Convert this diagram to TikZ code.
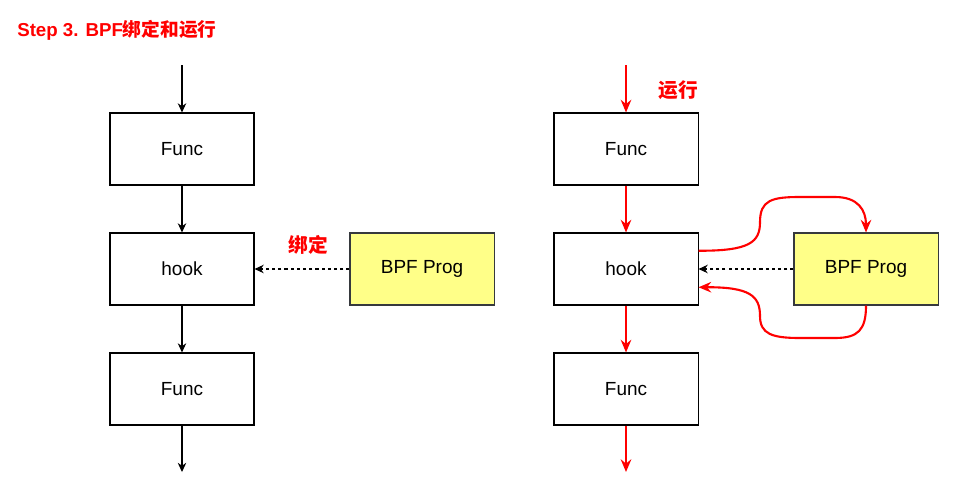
\documentclass[tikz,border=0pt]{standalone}
\usepackage{fontspec}
\setmainfont{Liberation Sans}
\newfontfamily\cjk{Noto Sans CJK SC}
\usetikzlibrary{calc}
\usetikzlibrary{arrows.meta}

\definecolor{progfill}{HTML}{FFFF88}
\definecolor{progline}{HTML}{36393D}

\tikzset{
    blk/.style={draw=black, line width=0.75pt, minimum width=3.6cm, minimum height=1.8cm, font=\fontsize{13.5}{16}\selectfont},
    prog/.style={blk, draw=progline, fill=progfill},
    flow/.style={line width=0.75pt, -{Stealth[length=6.5pt,width=6pt,inset=2pt]}},
    run/.style={red, line width=1.5pt, -{Stealth[length=9pt,width=7.5pt,inset=3pt]}},
    bind/.style={line width=0.75pt, dash pattern=on 2.2pt off 2.2pt, -{Stealth[length=6.5pt,width=6pt,inset=2pt]}},
    tag/.style={red, font=\fontsize{14}{16}\selectfont\bfseries\cjk}
}

\begin{document}
\begin{tikzpicture}[x=0.025cm, y=-0.025cm]
    \useasboundingbox (0,0) rectangle (970,493);

    \node [anchor=west, inner sep=0pt, red, font=\fontsize{13.3}{16}\selectfont\bfseries] (title) at (17,30) {Step 3. BPF{\cjk 绑定和运行}};

    % left: bind
    \node [blk] (funcA) at (182,149) {Func};
    \node [blk] (hookA) at (182,269) {hook};
    \node [blk] (funcB) at (182,389) {Func};
    \node [prog] (progA) at (422,269) {BPF Prog};

    \coordinate (inA) at (182,65);
    \coordinate (outA) at (182,472);

    \draw [flow] (inA) -- (funcA);
    \draw [flow] (funcA) -- (hookA);
    \draw [flow] (hookA) -- (funcB);
    \draw [flow] (funcB) -- (outA);
    \draw [bind] (progA) -- (hookA);

    \node [tag] (bindtxt) at (308,245) {绑定};

    % right: run
    \node [blk] (funcC) at (626,149) {Func};
    \node [blk] (hookB) at (626,269) {hook};
    \node [blk] (funcD) at (626,389) {Func};
    \node [prog] (progB) at (866,269) {BPF Prog};

    \coordinate (inB) at (626,65);
    \coordinate (outB) at (626,472);
    \coordinate (hookUp) at ($(hookB.north east)!0.25!(hookB.south east)$);
    \coordinate (hookDn) at ($(hookB.north east)!0.75!(hookB.south east)$);

    \draw [run] (inB) -- (funcC);
    \draw [run] (funcC) -- (hookB);
    \draw [run] (hookB) -- (funcD);
    \draw [run] (funcD) -- (outB);
    \draw [bind] (progB) -- (hookB);

    \draw [run] (hookUp) .. controls (750,251) and (760,242) .. (760,222)
        .. controls (760,200) and (772,197) .. (800,197) -- (835,197)
        .. controls (858,197) and (866,210) .. (progB.north);
    \draw [run] (progB.south) .. controls (866,330) and (858,338) .. (835,338)
        -- (800,338) .. controls (772,338) and (760,334) .. (760,316)
        .. controls (760,296) and (750,287) .. (hookDn);

    \node [tag] (runtxt) at (678,90) {运行};
\end{tikzpicture}
\end{document}
